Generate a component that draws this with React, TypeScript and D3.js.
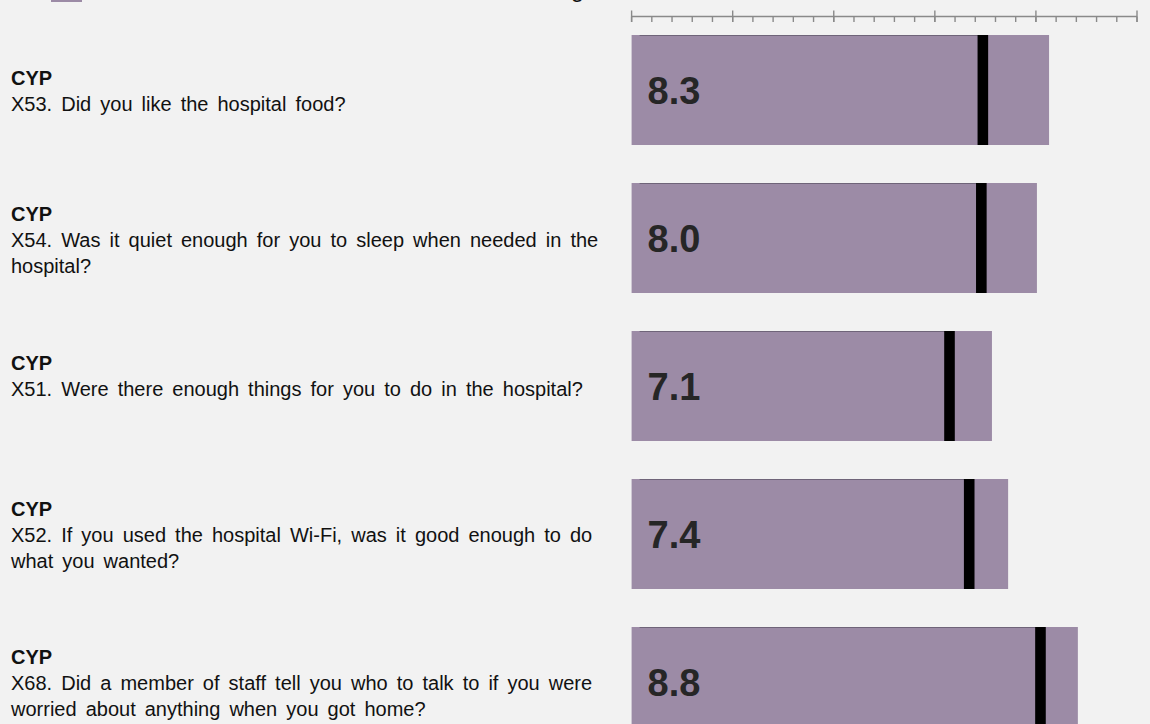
import * as d3 from 'd3';
import React from 'react';

// rows, top to bottom
const questionIds = ['X53', 'X54', 'X51', 'X52', 'X68'];
const groupLabels = ['CYP', 'CYP', 'CYP', 'CYP', 'CYP'];
const questionLines = [
  ['X53. Did you like the hospital food?'],
  ['X54. Was it quiet enough for you to sleep when needed in the', 'hospital?'],
  ['X51. Were there enough things for you to do in the hospital?'],
  ['X52. If you used the hospital Wi-Fi, was it good enough to do', 'what you wanted?'],
  ['X68. Did a member of staff tell you who to talk to if you were', 'worried about anything when you got home?'],
];
const scores = [8.26, 8.02, 7.13, 7.45, 8.83];
const scoreLabels = ['8.3', '8.0', '7.1', '7.4', '8.8'];
const benchmarks = [6.95, 6.92, 6.29, 6.68, 8.09];

const axisDomain = [0, 10];
const majorTickStep = 2;
const minorTickStep = 0.4;

const legendLabel = 'National benchmarking';

const W = 1150;
const H = 724;
const BG = '#f2f2f2';
const BAR = '#9c8ba6';
const FONT = '"Liberation Sans", Arial, Helvetica, sans-serif';

// first text baseline relative to each bar's top
const labelOffsets = [50, 38, 39, 37, 37];
const lineHeight = 26;

export default function App() {
  const x = d3.scaleLinear().domain(axisDomain).range([631.6, 1137]);
  const y = d3
    .scaleBand<string>()
    .domain(questionIds)
    .range([35, 35 + 148 * 4 + 110])
    .paddingInner(38 / 148)
    .paddingOuter(0);

  const major = d3.range(axisDomain[0], axisDomain[1] + 1e-9, majorTickStep);
  const nMinor = Math.round((axisDomain[1] - axisDomain[0]) / minorTickStep);
  const minor = d3.range(0, nMinor + 1).map((i) => axisDomain[0] + i * minorTickStep);
  const axisY = 16.5;

  return (
    <div style={{ position: 'fixed', left: 0, top: 0, width: W, height: H, background: BG }}>
      <svg width={W} height={H} style={{ display: 'block', fontFamily: FONT }}>
        <rect width={W} height={H} fill={BG} />

        {/* legend, mostly above the visible area */}
        <rect x={51} y={-30} width={31} height={32} fill={BAR} />
        <text x={584} y={-3} fontSize={24} textAnchor="end" fill="#111">
          {legendLabel}
        </text>

        {/* axis */}
        <g stroke="#8a8a8a" strokeWidth={1.4}>
          <line x1={x(axisDomain[0])} x2={x(axisDomain[1])} y1={axisY} y2={axisY} />
          {minor.map((t) => (
            <line key={'m' + t} x1={x(t)} x2={x(t)} y1={axisY} y2={22} />
          ))}
          {major.map((t) => (
            <line key={'M' + t} x1={x(t)} x2={x(t)} y1={10.5} y2={22} />
          ))}
        </g>

        {questionIds.map((id, i) => {
          const top = y(id)!;
          const bh = y.bandwidth();
          const cy = top + bh / 2;
          const x0 = x(0);
          const mx = x(benchmarks[i]);
          return (
            <g key={id}>
              <text x={11} y={top + labelOffsets[i]} fontSize={20} fill="#111" style={{ wordSpacing: '3.5px' }}>
                <tspan x={11} fontWeight="bold" style={{ wordSpacing: '0px' }}>
                  {groupLabels[i]}
                </tspan>
                {questionLines[i].map((ln, j) => (
                  <tspan key={j} x={11} dy={lineHeight}>
                    {ln}
                  </tspan>
                ))}
              </text>
              <rect x={x0} y={top} width={x(scores[i]) - x0} height={bh} fill={BAR} />
              <line x1={x0 + 8} x2={mx} y1={top + 0.5} y2={top + 0.5} stroke="#6f6479" strokeWidth={1} />
              <rect x={mx - 5.3} y={top} width={10.6} height={bh} fill="#000" />
              <text x={x0 + 16} y={cy + 14} fontSize={38} fontWeight="bold" fill="#262626">
                {scoreLabels[i]}
              </text>
            </g>
          );
        })}
      </svg>
    </div>
  );
}
